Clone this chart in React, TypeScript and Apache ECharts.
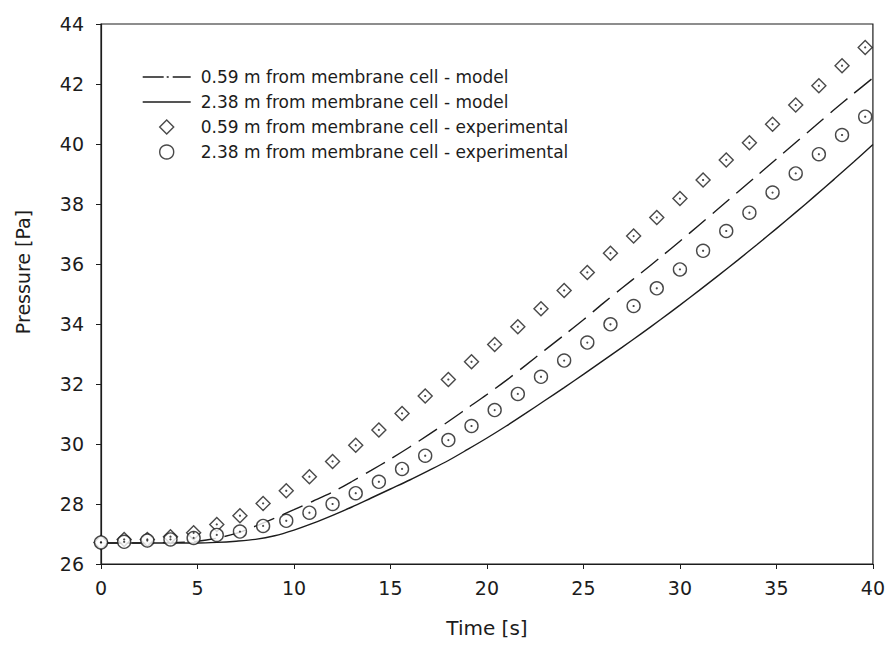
import React, { useEffect, useRef } from "react";
import * as echarts from "echarts";

const X_TICK_STEP = 5;
const Y_TICK_STEP = 2;

const MODEL_TIME = [0, 1, 2, 3, 4, 5, 6, 7, 8, 9, 10, 11, 12, 13, 14, 15, 16, 17, 18, 19, 20,
  21, 22, 23, 24, 25, 26, 27, 28, 29, 30, 31, 32, 33, 34, 35, 36, 37, 38, 39, 40];

const MODEL_059 = [26.7, 26.7, 26.7, 26.71, 26.72, 26.76, 26.86, 27.02, 27.26, 27.53, 27.81,
  28.1, 28.4, 28.75, 29.12, 29.5, 29.9, 30.32, 30.75, 31.2, 31.65,
  32.12, 32.62, 33.13, 33.63, 34.14, 34.68, 35.2, 35.71, 36.23, 36.76,
  37.3, 37.85, 38.4, 38.95, 39.5, 40.05, 40.6, 41.15, 41.68, 42.2];

const MODEL_238 = [26.7, 26.7, 26.7, 26.7, 26.7, 26.7, 26.72, 26.76, 26.82, 26.94, 27.13,
  27.36, 27.62, 27.9, 28.2, 28.5, 28.8, 29.12, 29.45, 29.82, 30.2,
  30.6, 31.02, 31.45, 31.88, 32.32, 32.77, 33.22, 33.68, 34.15, 34.63,
  35.12, 35.62, 36.13, 36.65, 37.18, 37.72, 38.27, 38.83, 39.4, 39.98];

const EXP_TIME = [0, 1.2, 2.4, 3.6, 4.8, 6.0, 7.2, 8.4, 9.6, 10.8, 12.0, 13.2, 14.4, 15.6, 16.8,
  18.0, 19.2, 20.4, 21.6, 22.8, 24.0, 25.2, 26.4, 27.6, 28.8, 30.0, 31.2, 32.4, 33.6,
  34.8, 36.0, 37.2, 38.4, 39.6];

const EXP_059 = [26.72, 26.82, 26.82, 26.91, 27.04, 27.32, 27.61, 28.02, 28.44, 28.91, 29.42,
  29.96, 30.47, 31.02, 31.6, 32.15, 32.74, 33.32, 33.91, 34.51, 35.12, 35.72, 36.36,
  36.93, 37.55, 38.18, 38.8, 39.47, 40.04, 40.66, 41.3, 41.94, 42.61, 43.22];

const EXP_238 = [26.72, 26.74, 26.78, 26.82, 26.87, 26.97, 27.08, 27.27, 27.44, 27.71, 28.0,
  28.36, 28.74, 29.17, 29.61, 30.13, 30.6, 31.13, 31.67, 32.24, 32.78, 33.38, 33.99,
  34.6, 35.19, 35.82, 36.44, 37.1, 37.71, 38.38, 39.02, 39.66, 40.3, 40.91];

const NAMES = [
  "0.59 m from membrane cell - model",
  "2.38 m from membrane cell - model",
  "0.59 m from membrane cell - experimental",
  "2.38 m from membrane cell - experimental",
];

const INK = "#1c1c1c";
const FONT = "'DejaVu Sans', 'Liberation Sans', Arial, sans-serif";
const DIAMOND_ICON = "path://M7 0L14 7L7 14L0 7Z";

export default function App() {
  const ref = useRef<HTMLDivElement>(null);
  useEffect(() => {
    document.body.style.margin = "0";
    const chart = echarts.init(ref.current!, null, { renderer: "svg" });
    const pair = (xs: number[], ys: number[]) => xs.map((x, i) => [x, ys[i]]);
    chart.setOption({
      animation: false,
      backgroundColor: "#ffffff",
      textStyle: { fontFamily: FONT, color: INK },
      grid: {
        left: 101,
        right: 15,
        top: 24,
        bottom: 89,
        show: true,
        borderColor: INK,
        borderWidth: 1.2,
        backgroundColor: "transparent",
      },
      legend: {
        orient: "vertical",
        left: 137,
        top: 62,
        itemWidth: 48,
        itemHeight: 14,
        itemGap: 5,
        selectedMode: false,
        symbolKeepAspect: true,
        data: [
          {
            name: NAMES[0],
            itemStyle: { opacity: 0 },
            lineStyle: { color: INK, width: 1.4, type: [21, 3, 2, 4, 18, 10] },
          },
          {
            name: NAMES[1],
            itemStyle: { opacity: 0 },
            lineStyle: { color: INK, width: 1.4, type: "solid" },
          },
          {
            name: NAMES[2],
            icon: DIAMOND_ICON,
            itemStyle: { color: "#ffffff", borderColor: INK, borderWidth: 1.4 },
          },
          {
            name: NAMES[3],
            icon: "circle",
            itemStyle: { color: "#ffffff", borderColor: INK, borderWidth: 1.4 },
          },
        ],
        textStyle: {
          fontFamily: FONT,
          fontSize: 17,
          color: INK,
          lineHeight: 20,
          padding: [0, 0, 0, 5],
        },
      },
      xAxis: {
        type: "value",
        min: 0,
        max: 40,
        interval: X_TICK_STEP,
        name: "Time [s]",
        nameLocation: "middle",
        nameGap: 54,
        nameTextStyle: { fontFamily: FONT, fontSize: 20, color: INK },
        axisLine: { show: true, onZero: false, lineStyle: { color: INK, width: 1.2 } },
        axisTick: { show: true, length: 5, lineStyle: { color: INK } },
        axisLabel: { margin: 14, fontFamily: FONT, fontSize: 19, color: INK },
        splitLine: { show: false },
      },
      yAxis: {
        type: "value",
        min: 26,
        max: 44,
        interval: Y_TICK_STEP,
        axisLine: { show: true, onZero: false, lineStyle: { color: INK, width: 1.2 } },
        axisTick: { show: true, length: 5, lineStyle: { color: INK } },
        axisLabel: { margin: 17, fontFamily: FONT, fontSize: 19, color: INK },
        splitLine: { show: false },
      },
      graphic: [
        {
          type: "text",
          x: 23,
          y: 272,
          rotation: Math.PI / 2,
          style: {
            text: "Pressure [Pa]",
            fontFamily: FONT,
            fontSize: 19,
            fill: INK,
            align: "center",
            verticalAlign: "middle",
          },
        },
      ],
      series: [
        {
          name: NAMES[0],
          type: "line",
          data: pair(MODEL_TIME, MODEL_059),
          symbol: "none",
          smooth: 0.3,
          lineStyle: { color: INK, width: 1.4, type: [22, 9] },
          itemStyle: { color: INK },
          z: 2,
        },
        {
          name: NAMES[1],
          type: "line",
          data: pair(MODEL_TIME, MODEL_238),
          symbol: "none",
          smooth: 0.3,
          lineStyle: { color: INK, width: 1.4, type: "solid" },
          itemStyle: { color: INK },
          z: 2,
        },
        {
          name: NAMES[2],
          type: "scatter",
          data: pair(EXP_TIME, EXP_059),
          symbol: "diamond",
          symbolSize: 14,
          itemStyle: { color: "#ffffff", borderColor: INK, borderWidth: 1.4 },
          z: 3,
        },
        {
          name: NAMES[3],
          type: "scatter",
          data: pair(EXP_TIME, EXP_238),
          symbol: "circle",
          symbolSize: 13,
          itemStyle: { color: "#ffffff", borderColor: INK, borderWidth: 1.4 },
          z: 3,
        },
        {
          name: "dots-059",
          type: "scatter",
          data: pair(EXP_TIME, EXP_059),
          symbol: "circle",
          symbolSize: 2.2,
          itemStyle: { color: INK },
          silent: true,
          z: 4,
        },
        {
          name: "dots-238",
          type: "scatter",
          data: pair(EXP_TIME, EXP_238),
          symbol: "circle",
          symbolSize: 2.2,
          itemStyle: { color: INK },
          silent: true,
          z: 4,
        },
      ],
    });
    return () => chart.dispose();
  }, []);
  return <div ref={ref} style={{ width: 888, height: 653 }} />;
}
